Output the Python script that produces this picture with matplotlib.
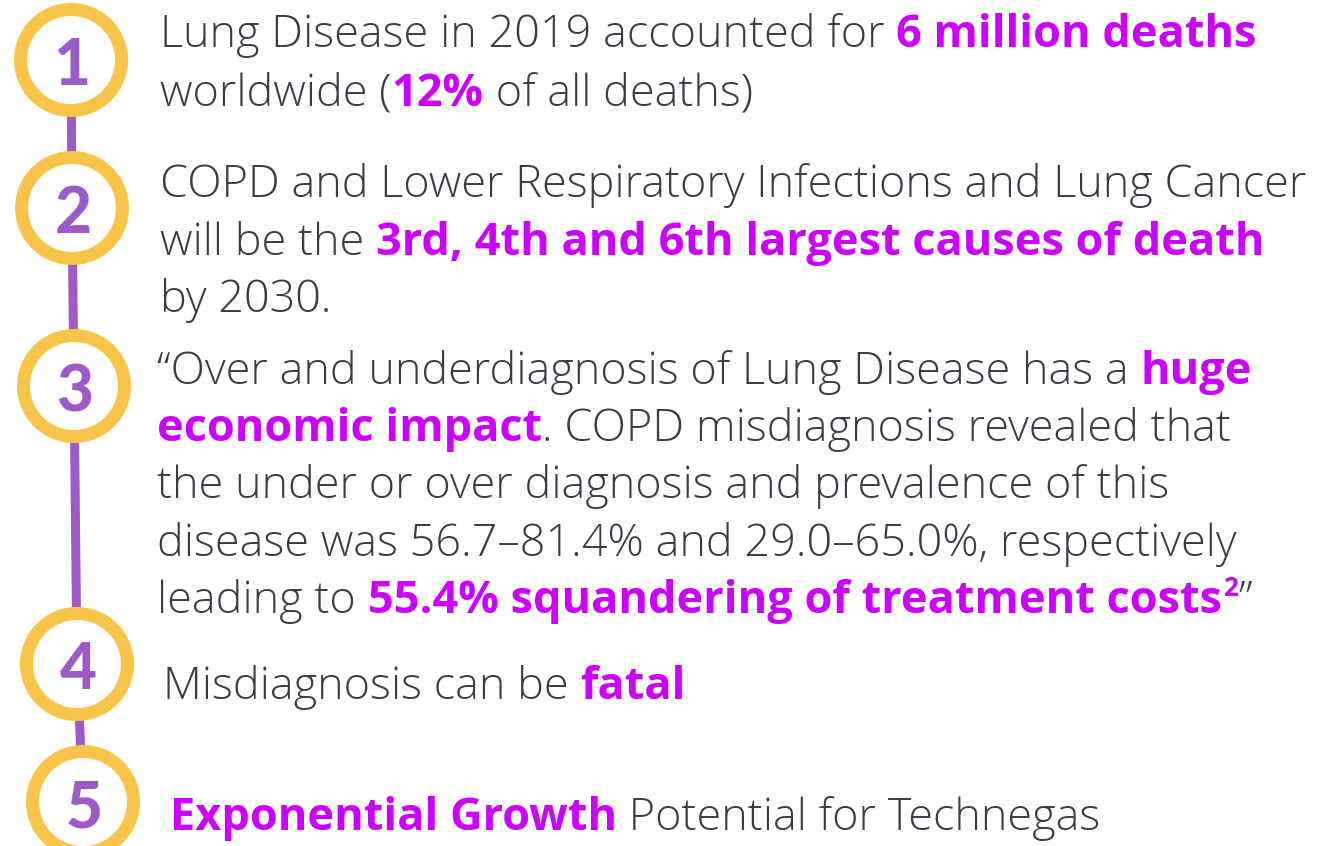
import matplotlib.pyplot as plt
from matplotlib import font_manager as fm
from matplotlib.patches import Circle

W, H = 1332, 846

GOLD = '#F8C54A'
PURPLE = '#9C5BC7'
GREY = '#383D45'
MAGENTA = '#CC00FF'

step_numbers = ['1', '2', '3', '4', '5']
step_x = [71, 72, 74, 77, 83]
step_y = [60, 208, 386, 664, 802]

# each line: (x, baseline y, [(text, bold), ...])
lines = [
    (160, 47, [('Lung Disease in 2019 accounted for ', False), ('6 million deaths', True)]),
    (160, 106, [('worldwide (', False), ('12%', True), (' of all deaths)', False)]),
    (160, 197, [('COPD and Lower Respiratory Infections and Lung Cancer', False)]),
    (160, 255, [('will be the ', False), ('3rd, 4th and 6th largest causes of death', True)]),
    (160, 312, [('by 2030.', False)]),
    (157, 384, [('\u201cOver and underdiagnosis of Lung Disease has a ', False), ('huge', True)]),
    (157, 441, [('economic impact', True), ('. COPD misdiagnosis revealed that', False)]),
    (157, 498, [('the under or over diagnosis and prevalence of this', False)]),
    (157, 556, [('disease was 56.7\u201381.4% and 29.0\u201365.0%, respectively', False)]),
    (157, 613, [('leading to ', False), ('55.4% squandering of treatment costs', True),
                ('2', 'sup'), ('\u201d', False)]),
    (163, 699, [('Misdiagnosis can be ', False), ('fatal', True)]),
    (170, 830, [('Exponential Growth', True), (' Potential for Technegas', False)]),
]


def font_file(name):
    for f in fm.fontManager.ttflist:
        if f.fname.endswith(name):
            return fm.FontProperties(fname=f.fname)
    return fm.FontProperties(family='DejaVu Sans')


light = font_file('OpenSans-Light.ttf')
bold = font_file('OpenSans-Bold.ttf')
digits = font_file('Lato-Heavy.ttf')

fig = plt.figure(figsize=(W / 100, H / 100), dpi=100)
ax = fig.add_axes([0, 0, 1, 1])
ax.set_xlim(0, W)
ax.set_ylim(H, 0)
ax.axis('off')

# connector line
ax.plot(step_x, step_y, color=PURPLE, lw=6.5, solid_capstyle='butt', zorder=1)

for num, x, y in zip(step_numbers, step_x, step_y):
    ax.add_patch(Circle((x, y), 57, facecolor=GOLD, edgecolor='none', zorder=2))
    ax.add_patch(Circle((x, y), 44, facecolor='white', edgecolor='none', zorder=3))
    ax.text(x + 1, y + 25, num, ha='center', va='baseline', fontproperties=digits,
            fontsize=46, color=PURPLE, zorder=4)

fig.canvas.draw()
renderer = fig.canvas.get_renderer()
inv = ax.transData.inverted()

for x0, y0, runs in lines:
    x = x0
    for txt, style in runs:
        if style == 'sup':
            t = ax.text(x + 2, y0 - 17, txt, fontproperties=bold, fontsize=19,
                        color=MAGENTA, va='baseline')
        elif style:
            t = ax.text(x, y0, txt, fontproperties=bold, fontsize=32.5,
                        color=MAGENTA, va='baseline')
        else:
            t = ax.text(x, y0, txt, fontproperties=light, fontsize=32.4,
                        color=GREY, va='baseline')
        bb = t.get_window_extent(renderer)
        x = inv.transform((bb.x1, bb.y0))[0]

fig.savefig('out.png', dpi=100, facecolor='white')
